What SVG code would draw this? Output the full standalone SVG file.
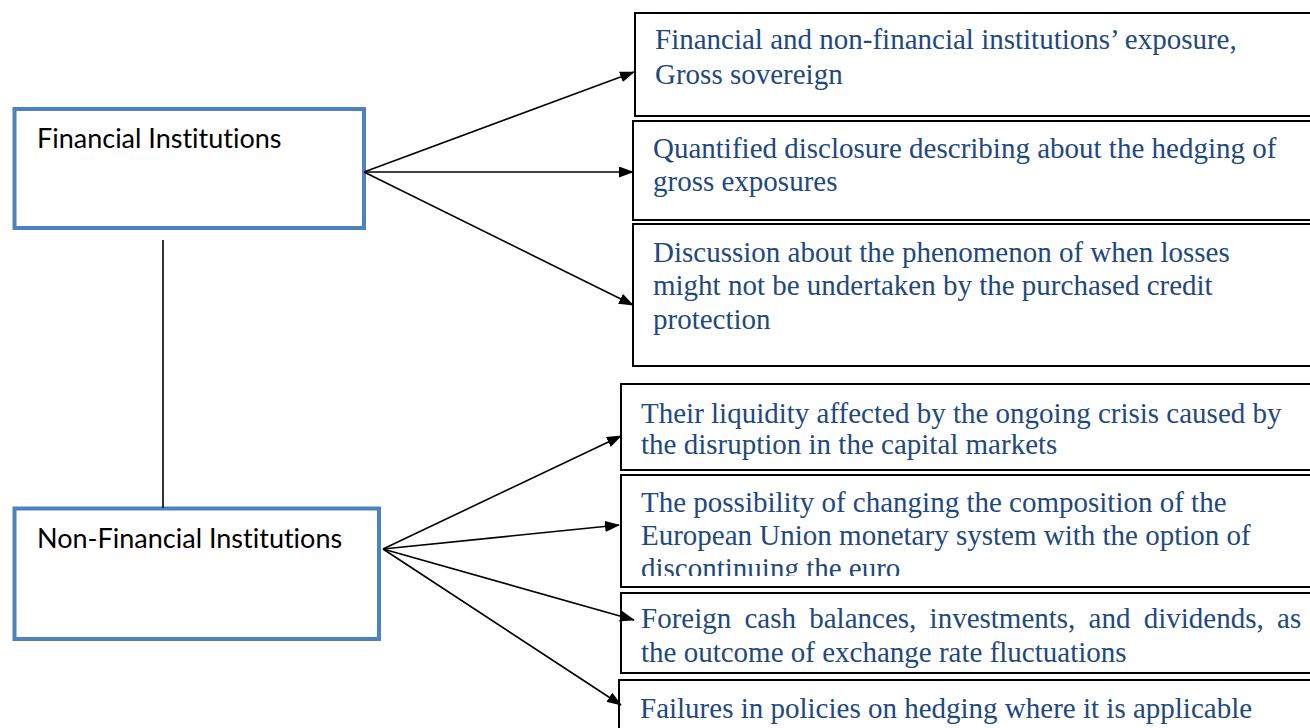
<svg xmlns="http://www.w3.org/2000/svg" width="1310" height="728" viewBox="0 0 1310 728">
<style>
.main{fill:#fff;stroke:#4F81BD;stroke-width:4}
.box{fill:#fff;stroke:#000;stroke-width:2}
.lbl{font-family:Lato,"Liberation Sans",sans-serif;font-size:27px;fill:#000;font-variant-ligatures:none}
.t{font-family:"Liberation Serif","Times New Roman",serif;font-size:29px;fill:#1F497D}
.c{stroke:#000;stroke-width:1.6;fill:none;marker-end:url(#ah)}
</style>
<defs>
<marker id="ah" markerWidth="15" markerHeight="11" refX="14" refY="5.5" orient="auto" markerUnits="userSpaceOnUse">
<path d="M0,0 L15,5.5 L0,11 Z" fill="#000"/>
</marker>
<clipPath id="clip5"><rect x="620" y="475" width="700" height="101"/></clipPath>
</defs>
<rect width="1310" height="728" fill="#fff"/>
<g id="financial">
<rect class="main" x="14.5" y="109" width="349.5" height="119"/>
<text class="lbl" x="37" y="148">Financial Institutions</text>
</g>
<g id="nonfinancial">
<rect class="main" x="14.5" y="508.5" width="364.5" height="130.5"/>
<text class="lbl" x="37" y="548">Non-Financial Institutions</text>
</g>
<g id="b1">
<rect class="box" x="635" y="13" width="690" height="103"/>
<text class="t" x="655" y="49">Financial and non-financial institutions’ exposure,</text>
<text class="t" x="655" y="84">Gross sovereign</text>
</g>
<g id="b2">
<rect class="box" x="633" y="121" width="690" height="99"/>
<text class="t" x="653" y="158">Quantified disclosure describing about the hedging of</text>
<text class="t" x="653" y="191">gross exposures</text>
</g>
<g id="b3">
<rect class="box" x="633" y="224" width="690" height="142"/>
<text class="t" x="653" y="262">Discussion about the phenomenon of when losses</text>
<text class="t" x="653" y="295">might not be undertaken by the purchased credit</text>
<text class="t" x="653" y="329">protection</text>
</g>
<g id="b4">
<rect class="box" x="621" y="384" width="700" height="86"/>
<text class="t" x="641" y="423">Their liquidity affected by the ongoing crisis caused by</text>
<text class="t" x="641" y="454">the disruption in the capital markets</text>
</g>
<g id="b5">
<rect class="box" x="621" y="475" width="700" height="112"/>
<g clip-path="url(#clip5)">
<text class="t" x="641" y="512">The possibility of changing the composition of the</text>
<text class="t" x="641" y="545">European Union monetary system with the option of</text>
<text class="t" x="641" y="578">discontinuing the euro</text>
</g>
</g>
<g id="b6">
<rect class="box" x="621" y="593" width="700" height="80"/>
<text class="t" x="641" y="628" word-spacing="6">Foreign cash balances, investments, and dividends, as</text>
<text class="t" x="641" y="662">the outcome of exchange rate fluctuations</text>
</g>
<g id="b7">
<rect class="box" x="619" y="680" width="700" height="60"/>
<text class="t" x="640" y="718">Failures in policies on hedging where it is applicable</text>
</g>
<g id="connectors">
<line x1="163" y1="240" x2="163" y2="508" stroke="#000" stroke-width="1.6"/>
<path class="c" d="M364,172 L634,72"/>
<path class="c" d="M364,172 L633,172"/>
<path class="c" d="M364,172 L633,305"/>
<path class="c" d="M383,549 L621,436"/>
<path class="c" d="M383,549 L619,525"/>
<path class="c" d="M383,549 L634,620"/>
<path class="c" d="M383,549 L621,705"/>
</g>
</svg>
